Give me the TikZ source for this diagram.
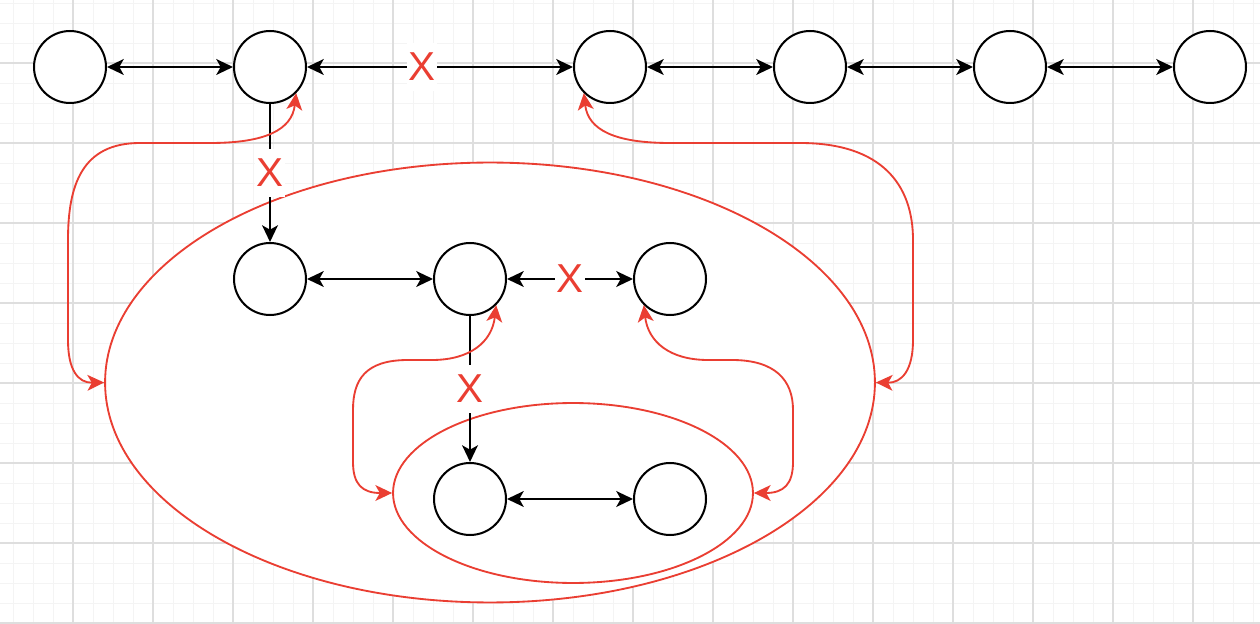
\documentclass[tikz,border=0pt]{standalone}
\usepackage{fontspec}
\setmainfont{Liberation Sans}
\usepackage{tikz}
\usetikzlibrary{arrows.meta, shapes.geometric}
\usepackage{xcolor}
\definecolor{markred}{RGB}{234,62,50}
\definecolor{gridmajor}{RGB}{222,222,222}
\definecolor{gridminor}{RGB}{244,244,244}

\begin{document}
\begin{tikzpicture}[x=0.02cm, y=-0.02cm,
        >={Stealth[length=9.5pt,width=9pt,inset=2.5pt]},
        fine/.style={draw=gridminor, line width=0.5pt},
        coarse/.style={draw=gridmajor, line width=0.6pt},
        ring/.style={circle, draw=black, fill=white, line width=1.15pt, minimum size=1.44cm, inner sep=0pt},
        cluster/.style={ellipse, draw=markred, fill=white, line width=1.05pt, inner sep=0pt},
        link/.style={draw=black, line width=1.15pt},
        hop/.style={draw=markred, line width=1.05pt, <->},
        cut/.style={fill=white, text=markred, font=\fontsize{23}{27}\selectfont, inner xsep=1pt, inner ysep=0pt, minimum height=27pt}]
        \useasboundingbox (0,0) rectangle (1260,624);
        \fill[white] (0,0) rectangle (1260,624);
        \foreach \gx in {13,33,...,1253} \draw[fine] (\gx,0) -- (\gx,624);
        \foreach \gy in {3,23,...,623} \draw[fine] (0,\gy) -- (1260,\gy);
        \foreach \gx in {73,153,...,1233} \draw[coarse] (\gx,0) -- (\gx,624);
        \foreach \gy in {63,143,...,623} \draw[coarse] (0,\gy) -- (1260,\gy);

        \node[cluster, minimum width=15.4cm, minimum height=8.8cm] (outer) at (490,382.5) {};
        \node[cluster, minimum width=7.2cm, minimum height=3.6cm] (inner) at (573,493) {};

        \node[ring] (c1) at (70,67) {};
        \node[ring] (c2) at (270,67) {};
        \node[ring] (c3) at (610,67) {};
        \node[ring] (c4) at (810,67) {};
        \node[ring] (c5) at (1010,67) {};
        \node[ring] (c6) at (1210,67) {};
        \node[ring] (d1) at (270,279) {};
        \node[ring] (d2) at (470,279) {};
        \node[ring] (d3) at (670,279) {};
        \node[ring] (e1) at (470,499) {};
        \node[ring] (e2) at (670,499) {};

        \draw[link, <->] (c1) -- (c2);
        \draw[link, <->] (c2) -- node[cut, pos=0.433] {X} (c3);
        \draw[link, <->] (c3) -- (c4);
        \draw[link, <->] (c4) -- (c5);
        \draw[link, <->] (c5) -- (c6);
        \draw[link, ->] (c2) -- node[cut] {X} (d1);
        \draw[link, <->] (d1) -- (d2);
        \draw[link, <->] (d2) -- node[cut] {X} (d3);
        \draw[link, ->] (d2) -- node[cut] {X} (e1);
        \draw[link, <->] (e1) -- (e2);

        \draw[hop] (c2.-45) .. controls (292,130) and (265,143) .. (210,143) -- (140,143) .. controls (82,143) and (68,185) .. (68,240) -- (68,340) .. controls (68,370) and (78,383) .. (outer.west);
        \draw[hop] (c3.-135) .. controls (588,130) and (615,143) .. (670,143) -- (800,143) .. controls (882,143) and (913,185) .. (913,240) -- (913,340) .. controls (913,370) and (902,383) .. (outer.east);
        \draw[hop] (d2.-45) .. controls (492,342) and (470,360) .. (432,360) -- (408,360) .. controls (365,360) and (353,380) .. (353,410) -- (353,462) .. controls (353,484) and (362,493) .. (inner.west);
        \draw[hop] (d3.-135) .. controls (648,342) and (670,360) .. (708,360) -- (732,360) .. controls (775,360) and (793,380) .. (793,410) -- (793,462) .. controls (793,484) and (784,493) .. (inner.east);
    \end{tikzpicture}
\end{document}
